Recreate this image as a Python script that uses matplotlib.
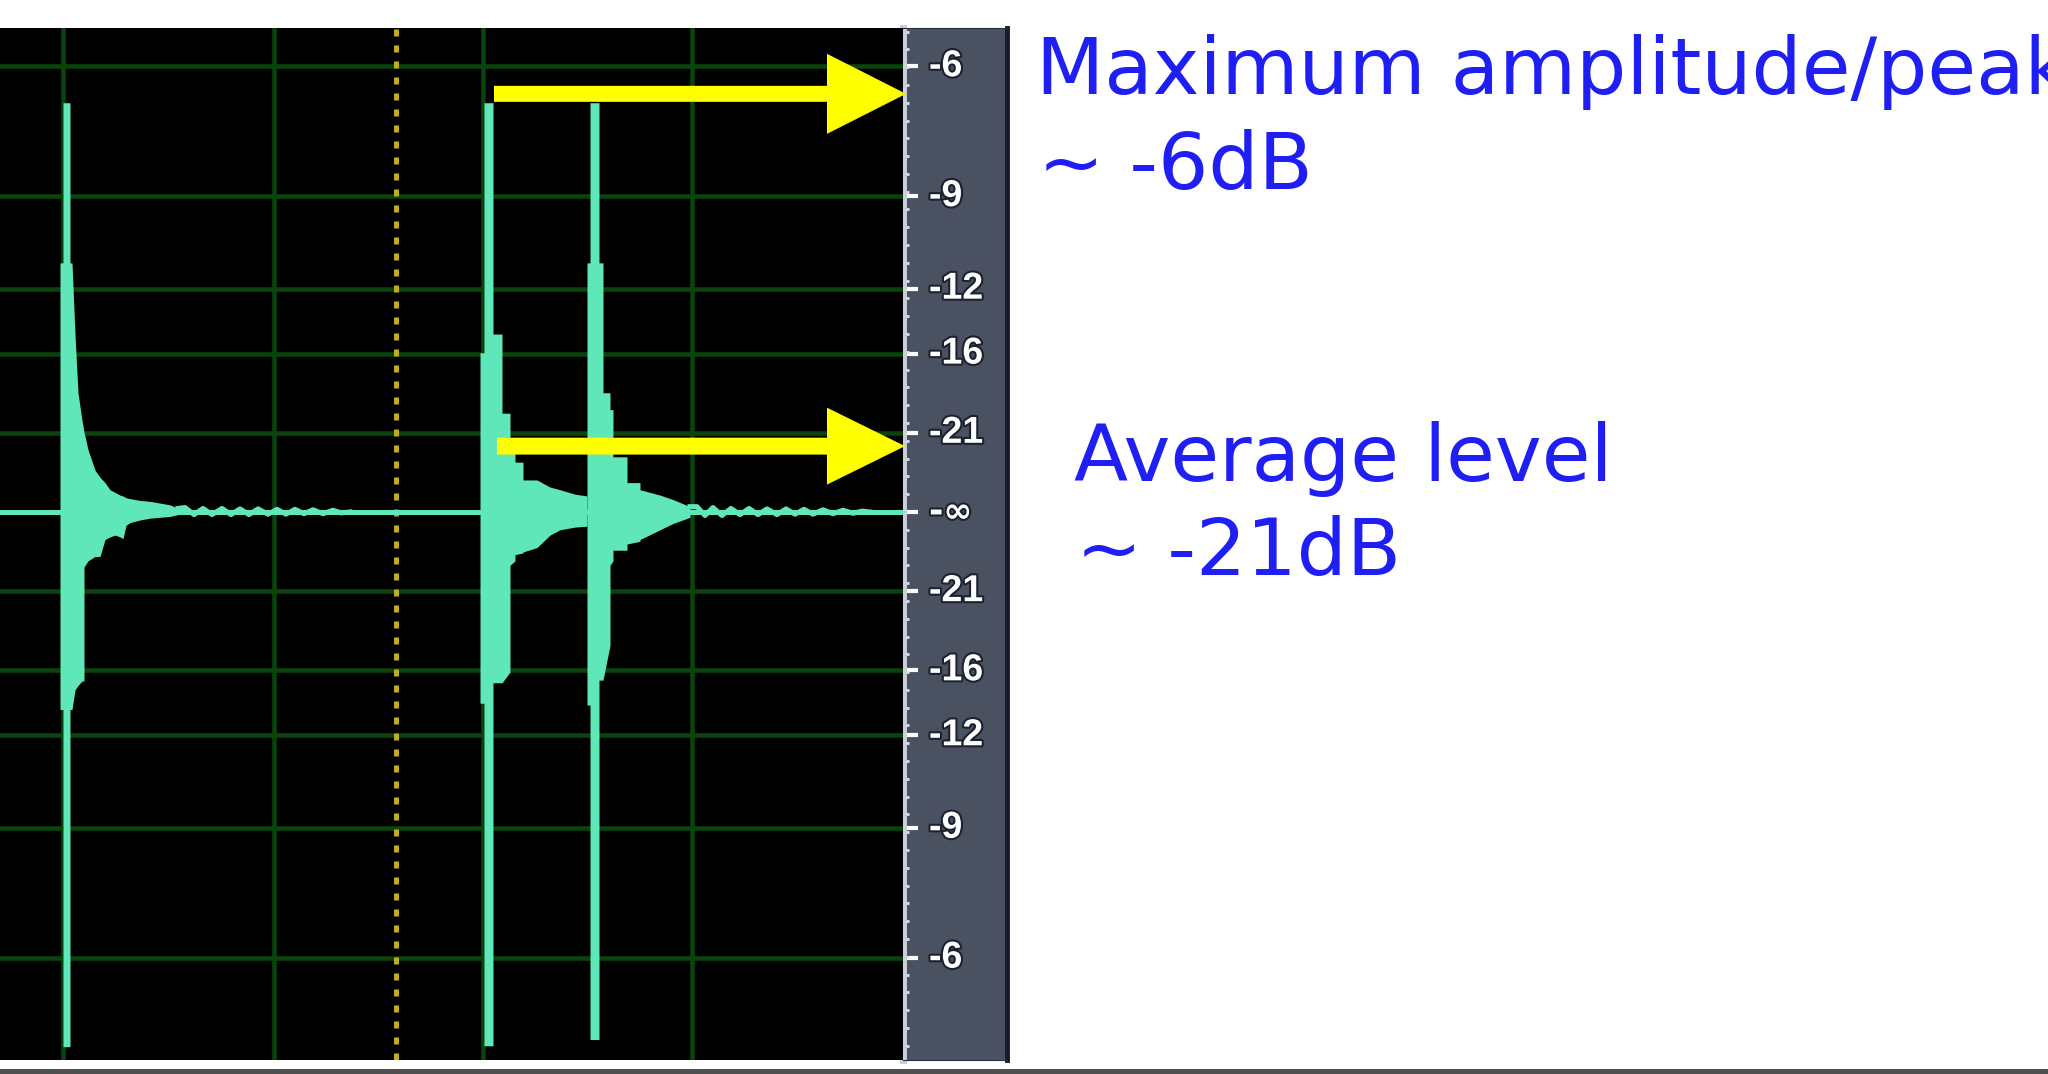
import matplotlib.pyplot as plt
import matplotlib.patheffects as pe
from matplotlib.patches import FancyArrow, Rectangle
from matplotlib.ticker import MultipleLocator

# editor view: x in screen samples, y in linear amplitude
grid_x = [63, 274, 483, 692]
cursor_x = 396

# dB scale (linear amplitude positions and their labels)
db_amp = [0.501, 0.355, 0.251, 0.178, 0.089]
db_labels = ['-6', '-9', '-12', '-16', '-21']

# burst 1
b1_x = [56, 60, 60, 63, 63, 70, 70, 72, 75, 78, 82, 84, 84, 88, 95, 100, 105, 110, 115, 120,
        123, 126, 130, 140, 150, 160, 170, 178]
b1_hi = [0, 0, 0.28, 0.28, 0.46, 0.46, 0.28, 0.28, 0.20, 0.134, 0.103, 0.09, 0.09, 0.07, 0.047,
         0.039, 0.033, 0.025, 0.022, 0.019, 0.018, 0.016, 0.015, 0.013, 0.012, 0.010, 0.008, 0.004]
b1_lo = [0, 0, -0.222, -0.222, -0.601, -0.601, -0.222, -0.222, -0.20, -0.195, -0.19, -0.19,
         -0.062, -0.055, -0.05, -0.05, -0.031, -0.028, -0.026, -0.028, -0.03, -0.015, -0.012,
         -0.009, -0.007, -0.006, -0.005, -0.003]

# burst 2
b2_x = [476, 480, 480, 484, 484, 493, 493, 502, 502, 510, 510, 515, 515, 523, 523, 537, 550, 560,
        575, 587]
b2_hi = [0, 0, 0.179, 0.179, 0.46, 0.46, 0.20, 0.20, 0.111, 0.111, 0.081, 0.081, 0.056, 0.056,
         0.036, 0.036, 0.028, 0.025, 0.02, 0.018]
b2_lo = [0, 0, -0.215, -0.215, -0.60, -0.60, -0.192, -0.192, -0.192, -0.18, -0.06, -0.055, -0.048,
         -0.046, -0.045, -0.04, -0.026, -0.02, -0.017, -0.016]

# burst 3
b3_x = [587, 587, 590, 590, 599, 599, 603, 603, 610, 610, 613, 613, 627, 627, 640, 640, 660, 673, 690]
b3_hi = [0.018, 0.28, 0.28, 0.46, 0.46, 0.28, 0.28, 0.134, 0.134, 0.115, 0.115, 0.062, 0.062,
         0.033, 0.033, 0.025, 0.019, 0.014, 0.006]
b3_lo = [-0.016, -0.217, -0.217, -0.593, -0.593, -0.189, -0.189, -0.189, -0.15, -0.06, -0.055,
         -0.043, -0.043, -0.036, -0.033, -0.031, -0.02, -0.013, -0.006]

# small ringing after the bursts
ripple_a_x = [178, 185, 194, 203, 212, 222, 231, 240, 249, 258, 268, 277, 286, 295, 304, 313, 323,
              333, 341, 350]
ripple_a_y = [0.004, 0.005, -0.003, 0.004, -0.003, 0.004, -0.003, 0.0035, -0.003, 0.0035, -0.0025,
              0.003, -0.0025, 0.003, -0.002, 0.0025, -0.002, 0.002, -0.001, 0.0]
ripple_c_x = [690, 697, 705, 713, 722, 731, 740, 749, 758, 767, 777, 786, 795, 804, 813, 823, 833,
              843, 853, 862, 870]
ripple_c_y = [0.006, 0.006, -0.004, 0.005, -0.004, 0.004, -0.003, 0.004, -0.003, 0.0035, -0.003,
              0.0035, -0.0025, 0.003, -0.0025, 0.0025, -0.002, 0.002, -0.0015, 0.001, 0.0]

# annotation arrows: level, start sample
peak_level = 0.470
avg_level = 0.074
peak_x0 = 494
avg_x0 = 497

wave_col = '#5fe6b9'
grid_col = '#0a440c'

fig = plt.figure(figsize=(20.48, 10.74), dpi=100)
fig.patch.set_facecolor('white')

ax = fig.add_axes([0, 14 / 1074, 903 / 2048, 1032 / 1074])
ax.set_facecolor('black')
ax.set_xlim(0, 903)
ax.set_ylim(-0.616, 0.544)
ax.set_xticks([])
ax.set_yticks([])
for s in ax.spines.values():
    s.set_visible(False)

for gx in grid_x:
    ax.axvline(gx, color=grid_col, lw=3.3, zorder=1)
for a in db_amp:
    ax.axhline(a, color=grid_col, lw=3.3, zorder=1)
    ax.axhline(-a, color=grid_col, lw=3.3, zorder=1)
ax.axvline(cursor_x, color='#bfae1c', lw=3.6, ls=(0, (1.4, 1.8)), zorder=2)

# waveform
ax.axhline(0, color=wave_col, lw=3.6, zorder=3)
for bx, lo, hi in [(b1_x, b1_lo, b1_hi), (b2_x, b2_lo, b2_hi), (b3_x, b3_lo, b3_hi)]:
    ax.fill_between(bx, lo, hi, color=wave_col, lw=0, zorder=3)
ax.plot(ripple_a_x, ripple_a_y, color=wave_col, lw=3.6, zorder=3)
ax.plot(ripple_c_x, ripple_c_y, color=wave_col, lw=3.6, zorder=3)

# yellow arrows
ax.add_patch(FancyArrow(peak_x0, peak_level, 906 - peak_x0, 0, width=0.018, head_width=0.09,
                        head_length=79, length_includes_head=True, color='#ffff00', lw=0,
                        zorder=6, clip_on=False))
ax.add_patch(FancyArrow(avg_x0, avg_level, 905 - avg_x0, 0, width=0.019, head_width=0.0865,
                        head_length=78, length_includes_head=True, color='#ffff00', lw=0,
                        zorder=6, clip_on=False))

# dB ruler strip
sax = fig.add_axes([903 / 2048, 14 / 1074, 104 / 2048, 1032 / 1074])
sax.set_facecolor('#4a5161')
sax.set_ylim(ax.get_ylim())
sax.set_xticks([])
sax.spines['left'].set_color('#c9d0da')
sax.spines['left'].set_linewidth(5)
sax.spines['right'].set_color('#151b2a')
sax.spines['right'].set_linewidth(3.5)
sax.spines['top'].set_color('#2a3040')
sax.spines['bottom'].set_color('#2a3040')
tick_pos = [a for a in db_amp] + [0] + [-a for a in db_amp]
sax.set_yticks(tick_pos)
sax.yaxis.set_minor_locator(MultipleLocator(0.02))
sax.tick_params(axis='y', which='major', direction='in', length=11, width=3, color='white',
                labelleft=False)
sax.tick_params(axis='y', which='minor', direction='in', length=4, width=2, color='#dfe4ea')
sax.set_zorder(5)
ax.set_zorder(6)

outline = [pe.withStroke(linewidth=3, foreground='#1c2130')]
for a, lab in zip(db_amp, db_labels):
    for sign in (1, -1):
        sax.text(0.25, sign * a, lab, transform=sax.get_yaxis_transform(), ha='left',
                 va='center', color='white', fontsize=27, fontweight='bold',
                 family='Liberation Sans', path_effects=outline)
sax.text(0.25, 0, '-\u221e', transform=sax.get_yaxis_transform(), ha='left', va='center',
         color='white', fontsize=25, fontweight='bold', family='DejaVu Sans',
         path_effects=outline)

# annotation text
blue = '#1e1ef5'
fs = 57
fig.text(1036 / 2048, 1 - 94 / 1074, 'Maximum amplitude/peak', color=blue, fontsize=fs,
         va='baseline', ha='left')
fig.text(1038 / 2048, 1 - 189 / 1074, '~ -6dB', color=blue, fontsize=fs, va='baseline', ha='left')
fig.text(1074 / 2048, 1 - 481 / 1074, 'Average level', color=blue, fontsize=fs, va='baseline',
         ha='left')
fig.text(1076 / 2048, 1 - 575 / 1074, '~ -21dB', color=blue, fontsize=fs, va='baseline',
         ha='left')

# frame line at the bottom
fig.add_artist(Rectangle((0, 0), 1, 5 / 1074, transform=fig.transFigure, color='#505050', lw=0))

fig.savefig('out.png', dpi=100)
